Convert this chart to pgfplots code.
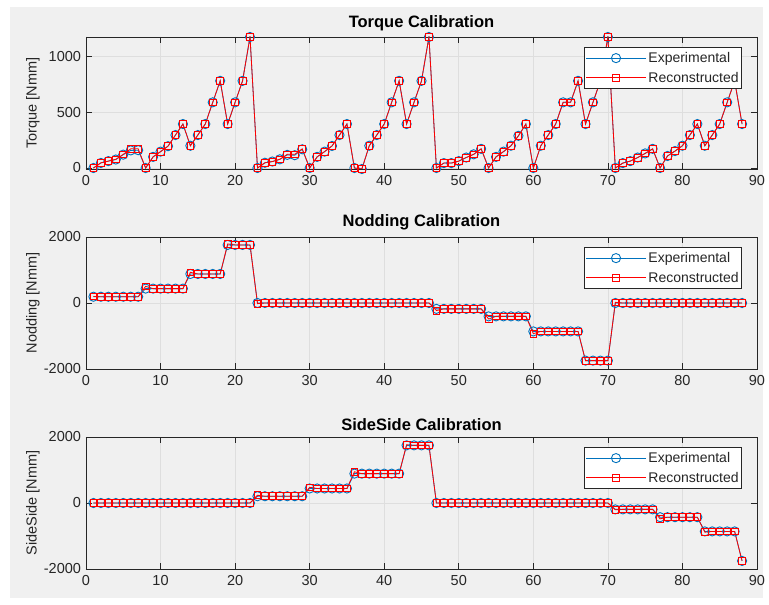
\documentclass[border=0pt]{standalone}
\usepackage{fontspec}
\setmainfont{Liberation Sans}
\usepackage{pgfplots}
\usepackage{pgfplotstable}
\pgfplotsset{compat=1.18}

\definecolor{mblue}{RGB}{0,114,189}
\definecolor{mred}{RGB}{255,0,0}
\definecolor{figbg}{RGB}{240,240,240}
\definecolor{axcol}{RGB}{38,38,38}
\definecolor{gridcol}{RGB}{222,222,222}

% Torque calibration: sample, experimental, reconstructed
\pgfplotstableread{
x exp rec
1 0 0
2 45 47
3 62 62
4 76 78
5 120 123
6 158 172
7 160 172
8 0 0
9 100 100
10 147 147
11 196 196
12 296 296
13 395 395
14 200 200
15 296 296
16 395 395
17 590 590
18 783 783
19 395 395
20 590 590
21 783 783
22 1177 1177
23 0 0
24 47 47
25 58 58
26 78 78
27 118 123
28 115 123
29 168 172
30 0 0
31 100 100
32 147 147
33 198 198
34 296 296
35 395 395
36 0 0
37 -9 -9
38 200 200
39 296 296
40 395 395
41 590 590
42 783 783
43 395 395
44 590 590
45 783 783
46 1177 1177
47 0 0
48 44 44
49 44 44
50 62 62
51 94 94
52 123 123
53 172 172
54 0 0
55 100 100
56 147 147
57 200 200
58 289 289
59 395 395
60 0 0
61 200 200
62 296 296
63 395 395
64 590 590
65 590 590
66 783 783
67 395 395
68 590 590
69 783 783
70 1177 1177
71 0 0
72 44 44
73 62 62
74 94 94
75 131 131
76 172 172
77 0 0
78 108 108
79 152 152
80 200 200
81 296 296
82 395 395
83 200 200
84 296 296
85 395 395
86 590 590
87 783 783
88 395 395
}\torquedata

% Nodding calibration
\pgfplotstableread{
x exp rec
1 190 200
2 190 190
3 190 190
4 190 190
5 190 190
6 190 190
7 190 190
8 436 505
9 436 436
10 436 436
11 436 436
12 436 436
13 436 436
14 880 930
15 880 880
16 880 880
17 880 880
18 880 880
19 1760 1790
20 1760 1760
21 1760 1760
22 1760 1760
23 0 -20
24 0 0
25 0 0
26 0 0
27 0 0
28 0 0
29 0 0
30 0 0
31 0 0
32 0 0
33 0 0
34 0 0
35 0 0
36 0 0
37 0 0
38 0 0
39 0 0
40 0 0
41 0 0
42 0 0
43 0 0
44 0 0
45 0 0
46 0 0
47 -178 -230
48 -178 -178
49 -178 -178
50 -178 -178
51 -178 -178
52 -178 -178
53 -178 -178
54 -405 -485
55 -405 -405
56 -405 -405
57 -405 -405
58 -405 -405
59 -405 -405
60 -861 -930
61 -861 -861
62 -861 -861
63 -861 -861
64 -861 -861
65 -861 -861
66 -861 -861
67 -1746 -1746
68 -1746 -1746
69 -1746 -1746
70 -1746 -1746
71 0 20
72 0 0
73 0 0
74 0 0
75 0 0
76 0 0
77 0 0
78 0 0
79 0 0
80 0 0
81 0 0
82 0 0
83 0 0
84 0 0
85 0 0
86 0 0
87 0 0
88 0 0
}\noddingdata

% Side-side calibration
\pgfplotstableread{
x exp rec
1 0 0
2 0 0
3 0 0
4 0 0
5 0 0
6 0 0
7 0 0
8 0 0
9 0 0
10 0 0
11 0 0
12 0 0
13 0 0
14 0 0
15 0 0
16 0 0
17 0 0
18 0 0
19 0 0
20 0 0
21 0 0
22 0 0
23 205 235
24 205 205
25 205 205
26 205 205
27 205 205
28 205 205
29 205 205
30 440 475
31 440 440
32 440 440
33 440 440
34 440 440
35 440 440
36 890 945
37 890 890
38 890 890
39 890 890
40 890 890
41 890 890
42 890 890
43 1747 1765
44 1747 1747
45 1747 1747
46 1747 1747
47 0 0
48 0 0
49 0 0
50 0 0
51 0 0
52 0 0
53 0 0
54 0 0
55 0 0
56 0 0
57 0 0
58 0 0
59 0 0
60 0 0
61 0 0
62 0 0
63 0 0
64 0 0
65 0 0
66 0 0
67 0 0
68 0 0
69 0 0
70 0 0
71 -193 -205
72 -193 -193
73 -193 -193
74 -193 -193
75 -193 -193
76 -193 -193
77 -430 -480
78 -430 -430
79 -430 -430
80 -430 -430
81 -430 -430
82 -430 -430
83 -861 -885
84 -861 -861
85 -861 -861
86 -861 -861
87 -861 -861
88 -1755 -1755
}\sidedata

\pgfplotsset{
  calib/.style={
    scale only axis,
    width=671pt, height=132pt,
    xmin=0, xmax=90,
    xtick={0,10,...,90},
    axis line style={axcol, line width=0.6pt},
    every tick/.style={axcol, line width=0.6pt},
    major tick length=6pt,
    tick align=inside,
    grid=major,
    major grid style={gridcol, line width=0.6pt},
    ticklabel style={font=\fontsize{14.5}{16}\selectfont, text=axcol},
    xticklabel style={yshift=-3pt},
    yticklabel style={xshift=-1.5pt},
    /pgf/number format/assume math mode=true,
    /pgf/number format/1000 sep={},
    title style={font=\bfseries\fontsize{16.5}{18}\selectfont, text=black, yshift=-3pt},
    ylabel style={font=\fontsize{14.5}{16}\selectfont, text=axcol,
      at={(axis description cs:-0.079,0.5)}, anchor=center},
    legend style={at={(1,1)}, anchor=north east, xshift=-15pt, yshift=-10pt,
      draw=axcol, fill=white, line width=0.6pt,
      font=\fontsize{14}{16}\selectfont, text=axcol,
      inner xsep=1pt, inner ysep=3pt, row sep=4pt},
    legend cell align=left,
    legend image code/.code={%
      \draw[mark repeat=2, mark phase=2, #1]
        plot coordinates {(0pt,0pt) (30pt,0pt) (60pt,0pt)};},
    expstyle/.style={mblue, line width=0.8pt, mark=o, mark size=4.6pt,
      mark options={line width=0.9pt}},
    recstyle/.style={mred, line width=0.8pt, mark=square, mark size=3.4pt,
      mark options={line width=0.8pt}},
  }
}

\begin{document}
\begin{tikzpicture}[x=1pt, y=1pt]
  \fill[white] (0,0) rectangle (769,605);
  \fill[figbg] (10,7) rectangle (763,598);

  % Torque
  \begin{axis}[calib, at={(86pt,436pt)}, anchor=south west,
      ymin=-9, ymax=1177, ytick={0,500,1000},
      title={Torque Calibration}, ylabel={Torque [Nmm]}]
    \addplot[expstyle] table[x=x, y=exp] {\torquedata};
    \addplot[recstyle] table[x=x, y=rec] {\torquedata};
    \legend{Experimental, Reconstructed}
  \end{axis}

  % Nodding
  \begin{axis}[calib, at={(86pt,236pt)}, anchor=south west,
      ymin=-2000, ymax=2000, ytick={-2000,0,2000},
      yticklabels={-2000,0,2000},
      title={Nodding Calibration}, ylabel={Nodding [Nmm]}]
    \addplot[expstyle] table[x=x, y=exp] {\noddingdata};
    \addplot[recstyle] table[x=x, y=rec] {\noddingdata};
    \legend{Experimental, Reconstructed}
  \end{axis}

  % Side-side
  \begin{axis}[calib, at={(86pt,36pt)}, anchor=south west,
      ymin=-2000, ymax=2000, ytick={-2000,0,2000},
      yticklabels={-2000,0,2000},
      title={SideSide Calibration}, ylabel={SideSide [Nmm]}]
    \addplot[expstyle] table[x=x, y=exp] {\sidedata};
    \addplot[recstyle] table[x=x, y=rec] {\sidedata};
    \legend{Experimental, Reconstructed}
  \end{axis}
\end{tikzpicture}
\end{document}
